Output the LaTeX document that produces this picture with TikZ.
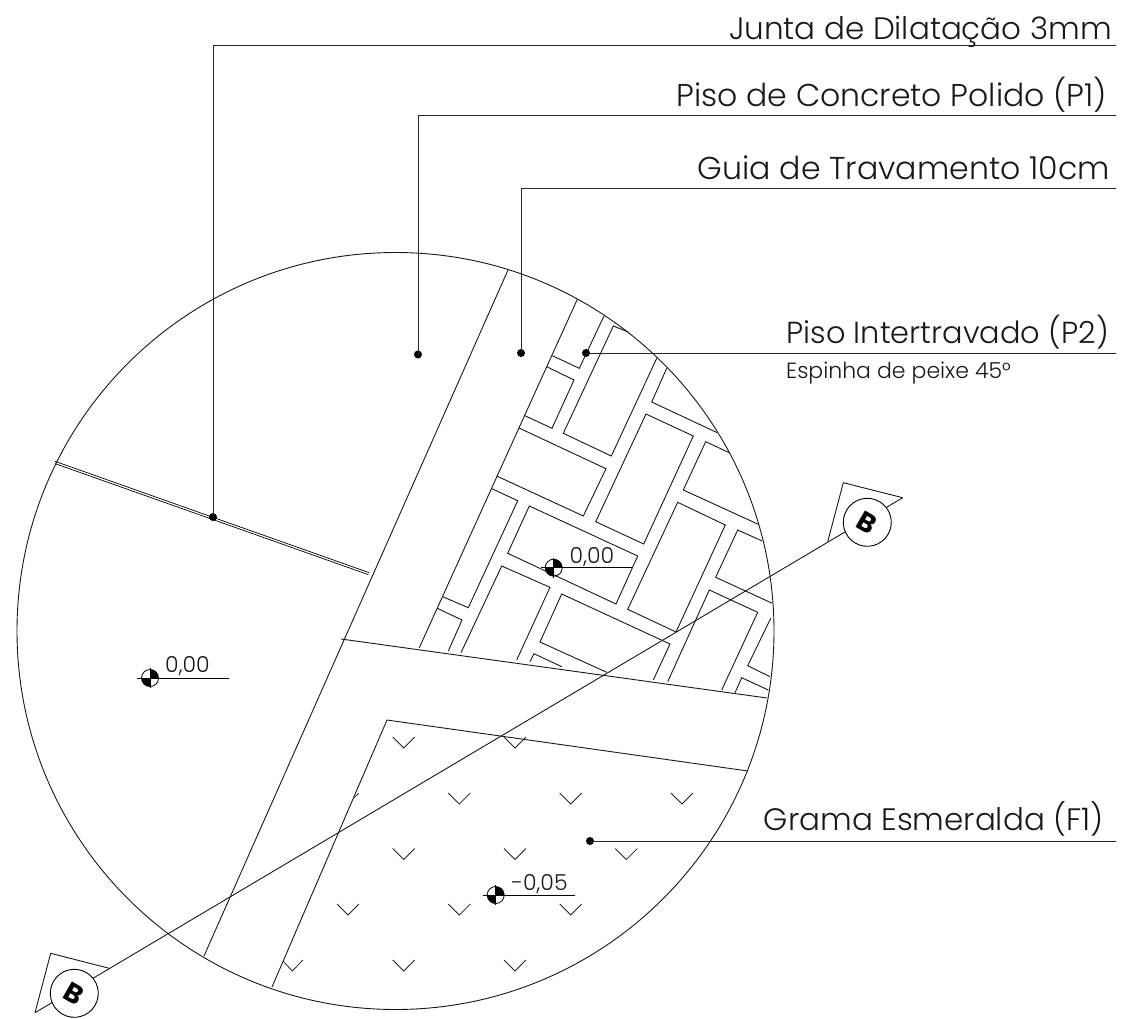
\documentclass[tikz,border=0pt]{standalone}
\usepackage{fontspec}
\setmainfont{Poppins}[UprightFont=*-Light,BoldFont=*-Bold]
\tikzset{
  ln/.style={line width=0.9pt,line join=miter,draw=black!90},
  lead/.style={line width=0.9pt,draw=black!85},
  dotn/.style={circle,fill=black,inner sep=0pt,minimum size=8pt},
  bigtxt/.style={anchor=base east,inner sep=0pt,text=black!90,font=\fontsize{#1}{#1}\selectfont},
  smalltxt/.style={anchor=base west,inner sep=0pt,font=\fontsize{22}{22}\selectfont,text=black!90},
  lvltxt/.style={anchor=base west,inner sep=0pt,font=\fontsize{22}{22}\selectfont,text=black!90},
  bubble/.style={circle,draw,line width=0.9pt,fill=white,minimum size=48pt,inner sep=0pt,rotate=-30,font=\fontsize{27}{27}\selectfont\bfseries},
  lvl/.pic={
    \fill[black] (0,0) -- (8.5pt,0) arc[start angle=0,end angle=90,radius=8.5pt] -- cycle;
    \fill[black] (0,0) -- (-8.5pt,0) arc[start angle=180,end angle=270,radius=8.5pt] -- cycle;
    \draw[line width=0.8pt] (0,0) circle (8.5pt);
    \draw[line width=0.8pt] (0,-10pt) -- (0,10pt);
  },
  grassv/.pic={\draw[line width=0.8pt,black!85] (-11pt,11pt) -- (0,0) -- (11pt,11pt);},
}
\begin{document}
\begin{tikzpicture}[x=1pt,y=-1pt]
\useasboundingbox[fill=white] (0,0) rectangle (1122,1018);

% detail circle
\draw[ln] (395.5,631) circle (378.5pt);

% expansion joint
\draw[line width=0.7pt] (55,461.3) -- (369.3,572.7);
\draw[line width=0.7pt] (55,463.6) -- (368.3,574.6);

% walkway and kerb
\draw[ln] (508,270) -- (204,956);
\draw[ln] (341,639) -- (767,698);
\draw[ln] (272,987) -- (387,720) -- (748,771);

% kerb edge along the pavers
\draw[ln] (577.3,299.3) -- (419.3,647.7);

% pavers
\draw[ln] (604,316) -- (579.3,368.3) -- (552.3,355.7);
\draw[ln] (546.7,366.7) -- (574,380) -- (552,428.3) -- (524,415.3);
\draw[ln] (519,428) -- (606,468.7) -- (583.3,516) -- (496.7,476);
\draw[ln] (628.3,332) -- (613.3,326) -- (563.3,433.3) -- (611.3,456) -- (656.7,358.3);
\draw[ln] (666.7,368.3) -- (651.7,402) -- (717.3,432.7);
\draw[ln] (646,414) -- (693.3,436) -- (643.7,544) -- (595.7,521.7) -- cycle;
\draw[ln] (729.3,452.7) -- (705.7,441.7) -- (683.3,490) -- (758.3,524.3);
\draw[ln] (677.7,502.3) -- (725.3,525) -- (676,632) -- (627.7,609.3) -- cycle;
\draw[ln] (762.3,541) -- (737.7,530) -- (715.7,577.3) -- (772.3,603.3);
\draw[ln] (667.7,681.7) -- (709.3,590) -- (757.7,612.3) -- (721.7,690);
\draw[ln] (770.7,618.3) -- (747.7,665.7) -- (770,676.7);
\draw[ln] (735,692.7) -- (741.7,677.7) -- (768.3,690);
\draw[ln] (491,488.3) -- (517.7,500.7) -- (468.3,607.7) -- (442.7,596.7);
\draw[ln] (437.3,608.3) -- (462,620) -- (448.3,651);
\draw[ln] (529.3,506) -- (637.7,556) -- (616,604) -- (507.7,553.3) -- cycle;
\draw[ln] (461,652.7) -- (501.7,566) -- (550,587.3) -- (516.7,660);
\draw[ln] (653.3,680) -- (670,644) -- (561.7,594) -- (540,642) -- (606.7,672.3);
\draw[ln] (530,661.7) -- (534,653.7) -- (561.7,666.7);

% grass
\foreach \p in {(403.7,737),(515,737),(459.3,793),(570.7,793),(682,793),
  (403.7,848.5),(515,848.5),(626.3,848.5),(348,904),(459.3,904),(570.7,904),
  (403.7,960),(515,960)}{\path \p pic[yshift=-11pt] {grassv};}
\draw[line width=0.8pt,black!85] (283,961) -- (292.3,971) -- (303,960);
\draw[line width=0.8pt,black!85] (354.3,797.5) -- (358.7,793.3);

% section line
\coordinate (secA) at (902.7,497.7);
\coordinate (secB) at (35,1012.7);
\coordinate (triA1) at (827.7,541.7);
\coordinate (triA2) at (843.3,482.7);
\coordinate (triB1) at (50.7,953.3);
\coordinate (triB2) at (109.3,968.3);
\draw[ln] (secA) -- (secB);
\draw[ln] (triA1) -- (triA2) -- (secA);
\draw[ln] (secB) -- (triB1) -- (triB2);
\node[bubble] (bubA) at (867.3,522.3) {B};
\node[bubble] (bubB) at (74.3,993.3) {B};

% level markers
\coordinate (lvA) at (150,678);
\coordinate (lvAe) at (229,678);
\coordinate (lvAs) at (137,678);
\draw[line width=0.9pt] (lvAs) -- (lvAe);
\path (lvA) pic {lvl};
\node[lvltxt] (lvAt) at (165,672) {0,00};

\coordinate (lvB) at (553.7,567.7);
\coordinate (lvBe) at (632,567.7);
\coordinate (lvBs) at (541,567.7);
\draw[line width=0.9pt] (lvBs) -- (lvBe);
\path (lvB) pic {lvl};
\node[lvltxt] (lvBt) at (569.5,563) {0,00};

\coordinate (lvC) at (495.7,895);
\coordinate (lvCe) at (575,895);
\coordinate (lvCs) at (483,895);
\draw[line width=0.9pt] (lvCs) -- (lvCe);
\path (lvC) pic {lvl};
\node[lvltxt] (lvCt) at (511.5,890) {-0,05};

% leaders
\node[dotn] (d1) at (213,517) {};
\node[dotn] (d2) at (418,354.5) {};
\node[dotn] (d3) at (521,353) {};
\node[dotn] (d4) at (586,353) {};
\node[dotn] (d5) at (590,841) {};
\coordinate (e1) at (1116,45);  \coordinate (k1) at (213,45);
\coordinate (e2) at (1116,115); \coordinate (k2) at (418,115);
\coordinate (e3) at (1116,188); \coordinate (k3) at (521,188);
\coordinate (e4) at (1116,353);
\coordinate (e5) at (1116,841);
\draw[lead] (e1) -- (k1) -- (d1.center);
\draw[lead] (e2) -- (k2) -- (d2.center);
\draw[lead] (e3) -- (k3) -- (d3.center);
\draw[lead] (e4) -- (d4.center);
\draw[lead] (e5) -- (d5.center);

\node[bigtxt=31] (t1) at (1112,39) {Junta de Dilatação 3mm};
\node[bigtxt=31.5] (t2) at (1107,106) {Piso de Concreto Polido (P1)};
\node[bigtxt=31.6] (t3) at (1110,179) {Guia de Travamento 10cm};
\node[bigtxt=30.4] (t4) at (1109,343) {Piso Intertravado (P2)};
\node[smalltxt] (t4b) at (786,378) {Espinha de peixe 45°};
\node[bigtxt=31] (t5) at (1104,830) {Grama Esmeralda (F1)};
\end{tikzpicture}
\end{document}
